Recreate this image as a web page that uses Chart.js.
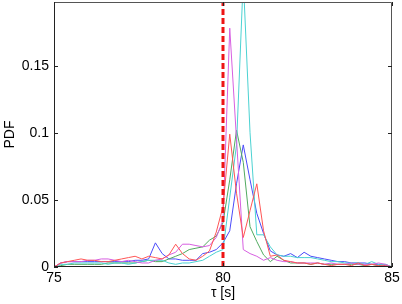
<!DOCTYPE html>
<html>
<head>
<meta charset="utf-8">
<script src="https://cdn.jsdelivr.net/npm/chart.js@4"></script>
<style>
  html, body { margin: 0; padding: 0; background: #fff; }
  #wrap { width: 402px; height: 304px; }
</style>
</head>
<body>
<div id="wrap"><canvas id="chart" width="402" height="304"></canvas></div>
<script>
// tau grid (s)
var tau = [75.0, 75.2, 75.4, 75.6, 75.8, 76.0, 76.2, 76.4, 76.6, 76.8,
           77.0, 77.2, 77.4, 77.6, 77.8, 78.0, 78.2, 78.4, 78.6, 78.8,
           79.0, 79.2, 79.4, 79.6, 79.8, 80.0, 80.2, 80.4, 80.6, 80.8,
           81.0, 81.2, 81.4, 81.6, 81.8, 82.0, 82.2, 82.4, 82.6, 82.8,
           83.0, 83.2, 83.4, 83.6, 83.8, 84.0, 84.2, 84.4, 84.6, 84.8, 85.0];

var pdfRed = [0, 0.003, 0.004, 0.005, 0.006, 0.005, 0.005, 0.004, 0.004, 0.005,
              0.006, 0.007, 0.008, 0.006, 0.008, 0.007, 0.006, 0.009, 0.017, 0.010,
              0.006, 0.005, 0.008, 0.012, 0.026, 0.045, 0.099, 0.055, 0.022, 0.042,
              0.062, 0.027, 0.008, 0.009, 0.005, 0.004, 0.003, 0.003, 0.002, 0.003,
              0.002, 0.001, 0.002, 0.002, 0.001, 0.003, 0.001, 0.002, 0.001, 0.001, 0];

var pdfMagenta = [0, 0.003, 0.004, 0.004, 0.004, 0.005, 0.005, 0.006, 0.006, 0.005,
                  0.004, 0.005, 0.004, 0.003, 0.003, 0.005, 0.006, 0.009, 0.011, 0.017,
                  0.017, 0.016, 0.015, 0.016, 0.022, 0.035, 0.178, 0.095, 0.013, 0.010,
                  0.008, 0.005, 0.007, 0.005, 0.004, 0.004, 0.003, 0.003, 0.003, 0.003,
                  0.002, 0.003, 0.002, 0.002, 0.003, 0.002, 0.002, 0.002, 0.003, 0.002, 0];

var pdfCyan = [0, 0.002, 0.002, 0.003, 0.003, 0.003, 0.003, 0.003, 0.002, 0.003,
               0.003, 0.002, 0.003, 0.004, 0.005, 0.005, 0.005, 0.003, 0.002, 0.003,
               0.003, 0.004, 0.005, 0.008, 0.011, 0.013, 0.052, 0.091, 0.215, 0.100,
               0.024, 0.024, 0.015, 0.009, 0.008, 0.008, 0.007, 0.007, 0.007, 0.006,
               0.005, 0.004, 0.004, 0.003, 0.003, 0.003, 0.002, 0.004, 0.002, 0.002, 0];

var pdfGreen = [0, 0.001, 0.002, 0.002, 0.002, 0.002, 0.002, 0.002, 0.003, 0.003,
                0.003, 0.003, 0.003, 0.004, 0.005, 0.004, 0.004, 0.006, 0.008, 0.010,
                0.013, 0.014, 0.015, 0.020, 0.023, 0.033, 0.065, 0.102, 0.078, 0.030,
                0.019, 0.009, 0.004, 0.008, 0.005, 0.003, 0.003, 0.003, 0.002, 0.003,
                0.002, 0.002, 0.002, 0.002, 0.002, 0.002, 0.001, 0.002, 0.001, 0.002, 0];

var pdfBlue = [0, 0.003, 0.004, 0.004, 0.004, 0.004, 0.004, 0.004, 0.004, 0.004,
               0.004, 0.004, 0.005, 0.005, 0.006, 0.018, 0.010, 0.006, 0.006, 0.005,
               0.005, 0.005, 0.010, 0.011, 0.013, 0.018, 0.027, 0.062, 0.091, 0.065,
               0.040, 0.025, 0.012, 0.009, 0.008, 0.010, 0.007, 0.011, 0.008, 0.007,
               0.006, 0.005, 0.004, 0.004, 0.003, 0.003, 0.003, 0.002, 0.002, 0.001, 0];

var markerTau = [80, 80];
var markerPdf = [0, 0.1975];

var xTicks = [75, 80, 85];
var yTicks = [0, 0.05, 0.1, 0.15];

function pares(xs, ys) {
    var out = [];
    for (var i = 0; i < xs.length; i++) out.push({ x: xs[i], y: ys[i] });
    return out;
}

function serie(ys, color) {
    return {
        data: pares(tau, ys),
        borderColor: color,
        borderWidth: 1,
        pointRadius: 0,
        tension: 0,
        fill: false
    };
}

// matlab-like box with inward ticks
var marco = {
    id: 'marco',
    afterDatasetsDraw: function (chart) {
        var ctx = chart.ctx;
        var a = chart.chartArea;
        var sx = chart.scales.x, sy = chart.scales.y;
        ctx.save();
        ctx.lineWidth = 1;
        // top and right in grey
        ctx.strokeStyle = '#555';
        ctx.beginPath();
        ctx.moveTo(a.left, a.top + 0.5); ctx.lineTo(a.right - 0.5, a.top + 0.5); ctx.lineTo(a.right - 0.5, a.bottom);
        ctx.stroke();
        ctx.strokeStyle = '#222';
        ctx.beginPath();
        ctx.moveTo(a.left + 0.5, a.top); ctx.lineTo(a.left + 0.5, a.bottom - 0.5); ctx.lineTo(a.right, a.bottom - 0.5);
        xTicks.forEach(function (v) {
            var p = Math.round(sx.getPixelForValue(v)) + 0.5;
            ctx.moveTo(p, a.bottom); ctx.lineTo(p, a.bottom - 4);
            ctx.moveTo(p, a.top); ctx.lineTo(p, a.top + 4);
        });
        yTicks.forEach(function (v) {
            var p = Math.round(sy.getPixelForValue(v)) + 0.5;
            ctx.moveTo(a.left, p); ctx.lineTo(a.left + 4, p);
            ctx.moveTo(a.right, p); ctx.lineTo(a.right - 4, p);
        });
        ctx.stroke();
        ctx.restore();
    }
};

var fuente = { family: '"Liberation Sans", Arial, sans-serif', size: 14 };

var datos = {
    type: 'line',
    data: {
        datasets: [
            {
                data: pares(markerTau, markerPdf),
                borderColor: 'rgb(238,20,20)',
                borderWidth: 3,
                borderDash: [6, 3],
                pointRadius: 0,
                fill: false
            },
            serie(pdfRed, 'rgb(255,85,85)'),
            serie(pdfMagenta, 'rgb(215,95,225)'),
            serie(pdfCyan, 'rgb(75,210,210)'),
            serie(pdfGreen, 'rgb(80,170,95)'),
            serie(pdfBlue, 'rgb(75,75,250)')
        ]
    },
    options: {
        responsive: false,
        animation: false,
        layout: { padding: { top: 2, right: 10, left: 0, bottom: 0 } },
        plugins: { legend: { display: false }, tooltip: { enabled: false } },
        scales: {
            x: {
                type: 'linear',
                min: 75,
                max: 85,
                grid: { display: false, drawTicks: false },
                border: { display: false },
                afterBuildTicks: function (s) { s.ticks = xTicks.map(function (v) { return { value: v }; }); },
                afterFit: function (s) { s.height = 37; s.paddingLeft = 0; s.paddingRight = 0; },
                ticks: { color: '#000', font: fuente, padding: 3, maxRotation: 0 },
                title: { display: true, text: 'τ [s]', color: '#000', font: fuente, padding: { top: 0, bottom: 2 } }
            },
            y: {
                min: 0,
                max: 0.1975,
                grid: { display: false, drawTicks: false },
                border: { display: false },
                afterBuildTicks: function (s) { s.ticks = yTicks.map(function (v) { return { value: v }; }); },
                afterFit: function (s) { s.width = 54; s.paddingTop = 0; s.paddingBottom = 0; },
                ticks: {
                    color: '#000', font: fuente, padding: 5,
                    callback: function (v) { return String(v); }
                },
                title: { display: true, text: 'PDF', color: '#000', font: fuente, padding: { top: 2, bottom: 0 } }
            }
        }
    },
    plugins: [marco]
};

var canvas = document.getElementById('chart').getContext('2d');
window.grafico = new Chart(canvas, datos);
</script>
</body>
</html>
